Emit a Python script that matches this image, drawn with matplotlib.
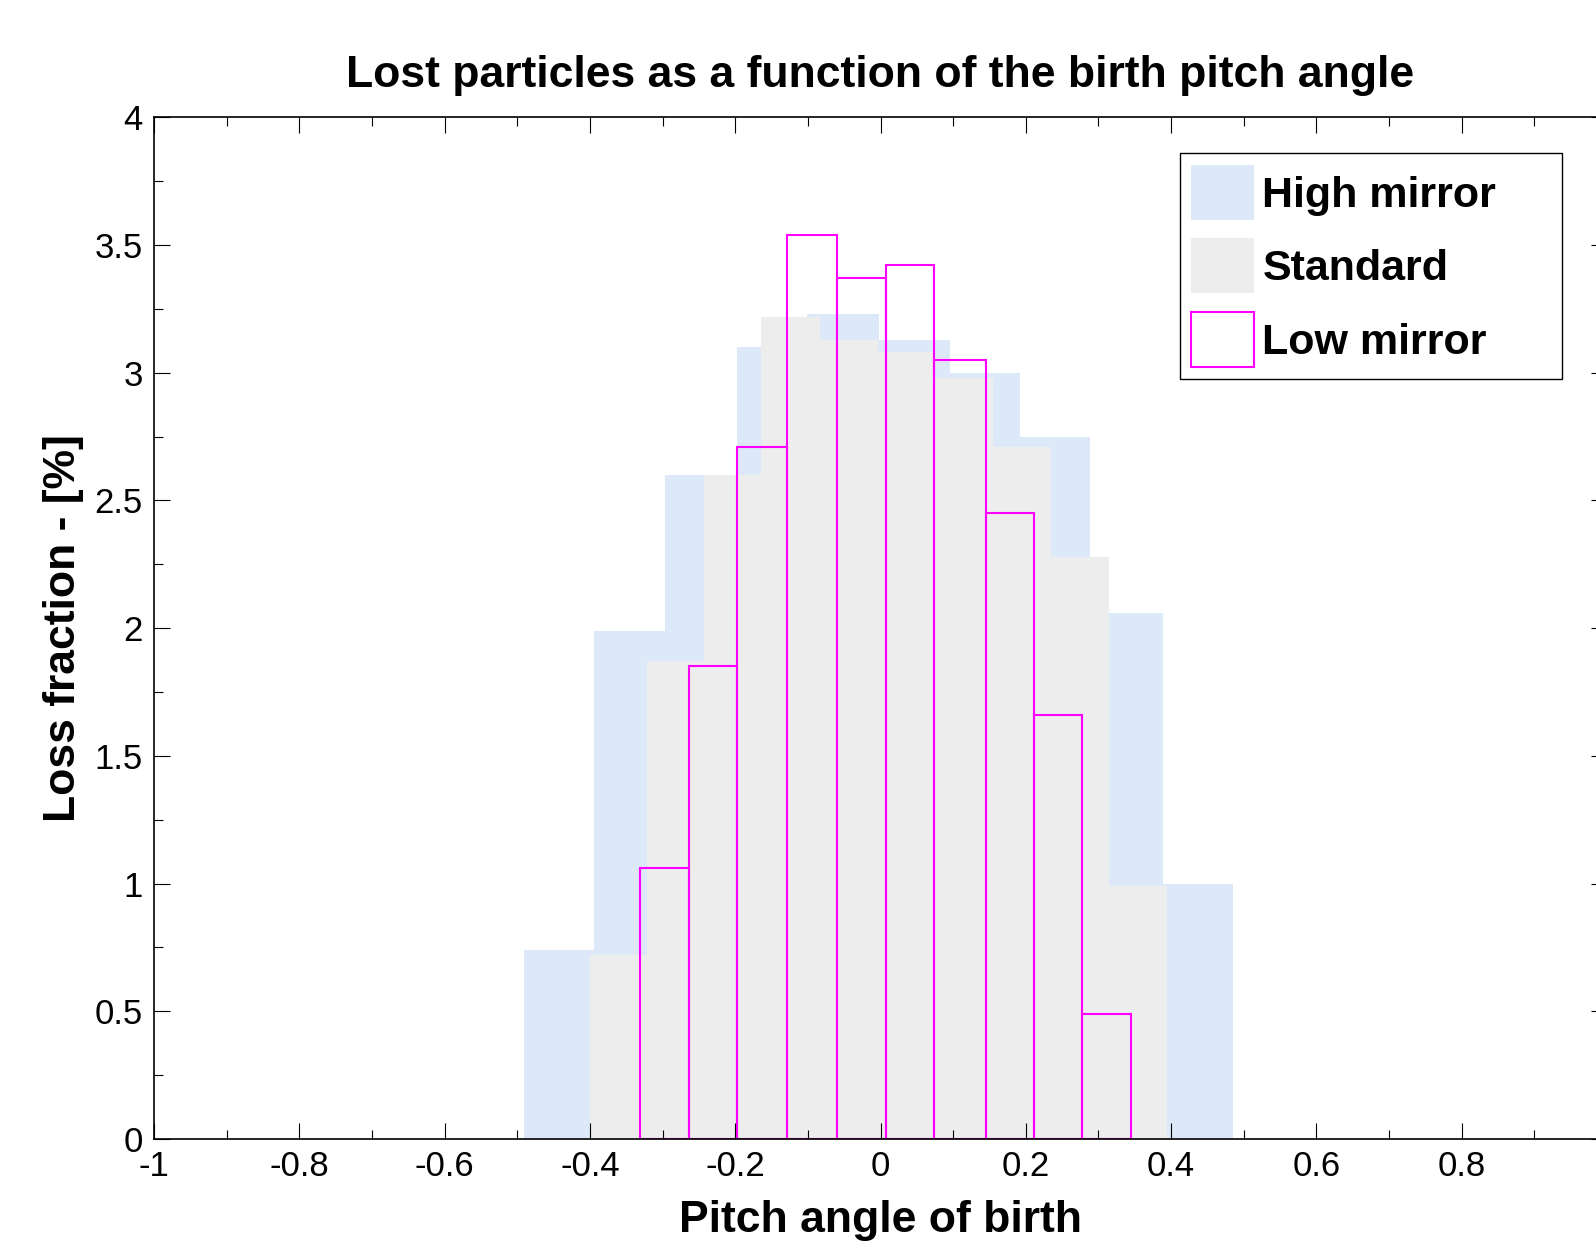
import numpy as np
import matplotlib
matplotlib.use("Agg")
import matplotlib.pyplot as plt
from matplotlib.ticker import MultipleLocator, FuncFormatter

plt.rcParams['font.family'] = ['Liberation Sans', 'DejaVu Sans']
plt.rcParams['axes.unicode_minus'] = False

# bin edges (pitch angle) and loss fraction [%]
high_edges = [-0.491, -0.394, -0.297, -0.198, -0.101, -0.002, 0.096, 0.192, 0.289, 0.389, 0.485]
high_vals = [0.74, 1.99, 2.60, 3.10, 3.23, 3.13, 3.00, 2.75, 2.06, 1.00]

std_edges = [-0.400, -0.322, -0.243, -0.165, -0.083, -0.004, 0.075, 0.155, 0.235, 0.314, 0.394]
std_vals = [0.72, 1.87, 2.60, 3.22, 3.13, 3.08, 2.98, 2.71, 2.28, 0.99]

low_edges = [-0.331, -0.264, -0.197, -0.129, -0.060, 0.008, 0.074, 0.145, 0.211, 0.278, 0.345]
low_vals = [1.06, 1.85, 2.71, 3.54, 3.37, 3.42, 3.05, 2.45, 1.66, 0.49]

labels = ['High mirror', 'Standard', 'Low mirror']

fig = plt.figure(figsize=(15.96, 12.48), dpi=100)
# axes run a bit past the right border, like the original export
ax = fig.add_axes([0.0965, 0.0873, 0.9104, 0.8187])

ax.bar(high_edges[:-1], high_vals, width=np.diff(high_edges), align='edge',
       color='#dde9f8', linewidth=0, label=labels[0])
ax.bar(std_edges[:-1], std_vals, width=np.diff(std_edges), align='edge',
       color='#ededed', linewidth=0, label=labels[1])
ax.bar(low_edges[:-1], low_vals, width=np.diff(low_edges), align='edge',
       fill=False, edgecolor='#ff00ff', linewidth=1.5, label=labels[2])

ax.set_xlim(-1, 1)
ax.set_ylim(0, 4)
ax.xaxis.set_major_locator(MultipleLocator(0.2))
ax.xaxis.set_minor_locator(MultipleLocator(0.1))
ax.yaxis.set_major_locator(MultipleLocator(0.5))
ax.yaxis.set_minor_locator(MultipleLocator(0.25))
# the label at x=1 falls outside the saved image, so leave it blank
ax.xaxis.set_major_formatter(FuncFormatter(lambda v, p: '' if v > 0.99 else '%g' % round(v, 6)))
ax.yaxis.set_major_formatter(FuncFormatter(lambda v, p: '%g' % round(v, 6)))
ax.tick_params(which='both', direction='in', top=True, right=True,
               labelsize=25, width=0.8)
ax.tick_params(which='major', length=11.5, pad=8)
ax.tick_params(which='minor', length=6.5)
for s in ax.spines.values():
    s.set_linewidth(1.2)

ax.set_title('Lost particles as a function of the birth pitch angle',
             fontsize=32, fontweight='bold', pad=22)
ax.set_xlabel('Pitch angle of birth', fontsize=32, fontweight='bold', labelpad=12)
ax.set_ylabel('Loss fraction - [%]', fontsize=32, fontweight='bold', labelpad=8)

ax.legend(loc='upper left', bbox_to_anchor=(0.7392, 0.6, 0.2393, 0.2772),
          bbox_transform=fig.transFigure, mode='expand',
          prop={'size': 31, 'weight': 'bold'},
          handlelength=1.46, handleheight=1.59, handletextpad=0.19,
          labelspacing=0.43, borderpad=0.27, borderaxespad=0,
          fancybox=False, framealpha=1, edgecolor='black')

fig.savefig('out.png', dpi=100)
